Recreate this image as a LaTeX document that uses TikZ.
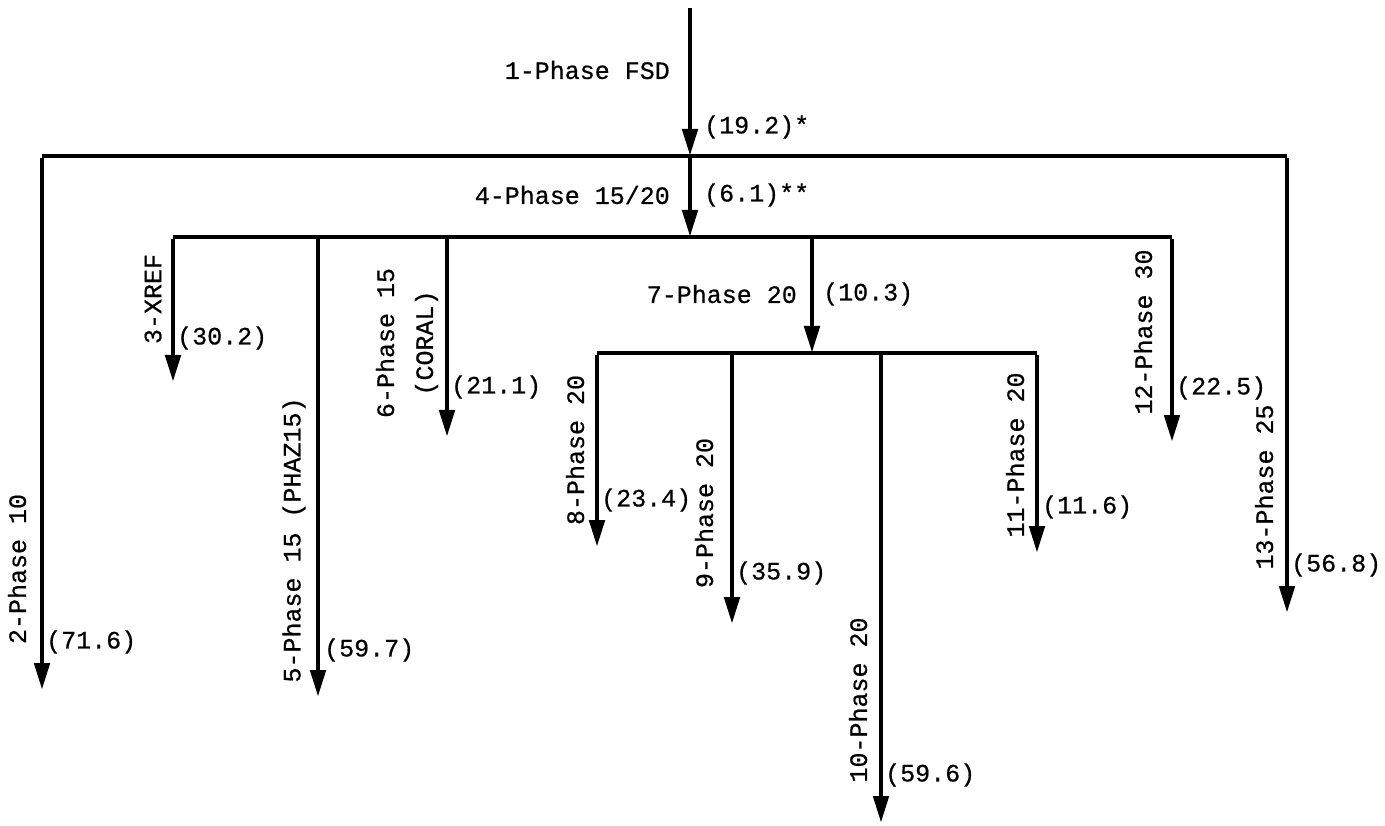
\documentclass[tikz,border=0pt]{standalone}
\usepackage{fontspec}
\usetikzlibrary{arrows.meta}
\newfontfamily\lblfont[FakeBold=0.6]{Liberation Mono}
\begin{document}
\begin{tikzpicture}[x=1pt,y=-1pt,
  flow/.style={line width=4.8pt, line join=miter, line cap=butt, -{Triangle[length=27pt,width=15pt]}},
  bar/.style={line width=4.5pt, line join=miter, line cap=butt},
  lbl/.style={font=\lblfont\fontsize{25pt}{39pt}\selectfont, inner sep=0pt, text=black},
  vlbl/.style={lbl, rotate=90, align=center}]
\fill[white] (0,0) rectangle (1385,826);
\useasboundingbox (0,0) rectangle (1385,826);
% junctions and tips
\coordinate (top) at (690,8);
\coordinate (j1) at (690,156);
\coordinate (c1L) at (42,156);
\coordinate (c1R) at (1287,156);
\coordinate (t2) at (42,690);
\coordinate (t13) at (1287,613);
\coordinate (j2) at (690,237);
\coordinate (c2L) at (173,237);
\coordinate (c2R) at (1172,237);
\coordinate (t3) at (173,382);
\coordinate (b5) at (318,237);
\coordinate (t5) at (318,697);
\coordinate (b6) at (447,237);
\coordinate (t6) at (447,437);
\coordinate (b7) at (812,237);
\coordinate (j3) at (812,353);
\coordinate (t12) at (1172,442);
\coordinate (c3L) at (597,353);
\coordinate (c3R) at (1037,353);
\coordinate (t8) at (597,547);
\coordinate (b9) at (732,353);
\coordinate (t9) at (732,624);
\coordinate (b10) at (881,353);
\coordinate (t10) at (881,823);
\coordinate (t11) at (1037,553);
% level 1
\draw[flow] (top) -- (j1);
\draw[bar] (j1) -- (c1L);
\draw[bar] (j1) -- (c1R);
\draw[flow] ([yshift=-2.25pt]c1L) -- (t2);
\draw[flow] ([yshift=-2.25pt]c1R) -- (t13);
\draw[flow] (j1) -- (j2);
% level 2
\draw[bar] (c2L) -- (c2R);
\draw[flow] ([yshift=-2.25pt]c2L) -- (t3);
\draw[flow] (b5) -- (t5);
\draw[flow] (b6) -- (t6);
\draw[flow] (b7) -- (j3);
\draw[flow] ([yshift=-2.25pt]c2R) -- (t12);
% level 3
\draw[bar] (c3L) -- (c3R);
\draw[flow] ([yshift=-2.25pt]c3L) -- (t8);
\draw[flow] (b9) -- (t9);
\draw[flow] (b10) -- (t10);
\draw[flow] ([yshift=-2.25pt]c3R) -- (t11);
% labels
\node[lbl, anchor=east] (l1) at (670,70) {1-Phase FSD};
\node[lbl, anchor=west] (v1) at (704,127) {(19.2)*};
\node[lbl, anchor=east] (l4) at (670,195) {4-Phase 15/20};
\node[lbl, anchor=west] (v4) at (704,195) {(6.1)**};
\node[lbl, anchor=east] (l7) at (797,294) {7-Phase 20};
\node[lbl, anchor=west] (v7) at (823,294) {(10.3)};
\node[vlbl] (l2) at (17,569) {2-Phase 10};
\node[lbl, anchor=west] (v2) at (46,642) {(71.6)};
\node[vlbl] (l3) at (153,299) {3-XREF};
\node[lbl, anchor=west] (v3) at (177,338) {(30.2)};
\node[vlbl] (l5) at (294,540) {5-Phase 15 (PHAZ15)};
\node[lbl, anchor=west] (v5) at (324,650) {(59.7)};
\node[vlbl] (l6) at (407,343) {6-Phase 15\\(CORAL)};
\node[lbl, anchor=west] (v6) at (451,387) {(21.1)};
\node[vlbl] (l8) at (575,450) {8-Phase 20};
\node[lbl, anchor=west] (v8) at (601,500) {(23.4)};
\node[vlbl] (l9) at (704,513) {9-Phase 20};
\node[lbl, anchor=west] (v9) at (736,573) {(35.9)};
\node[vlbl] (l10) at (858,700) {10-Phase 20};
\node[lbl, anchor=west] (v10) at (885,775) {(59.6)};
\node[vlbl] (l11) at (1015,455) {11-Phase 20};
\node[lbl, anchor=west] (v11) at (1042,507) {(11.6)};
\node[vlbl] (l12) at (1143,332) {12-Phase 30};
\node[lbl, anchor=west] (v12) at (1176,388) {(22.5)};
\node[vlbl] (l13) at (1264,487) {13-Phase 25};
\node[lbl, anchor=west] (v13) at (1291,565) {(56.8)};
\end{tikzpicture}
\end{document}
